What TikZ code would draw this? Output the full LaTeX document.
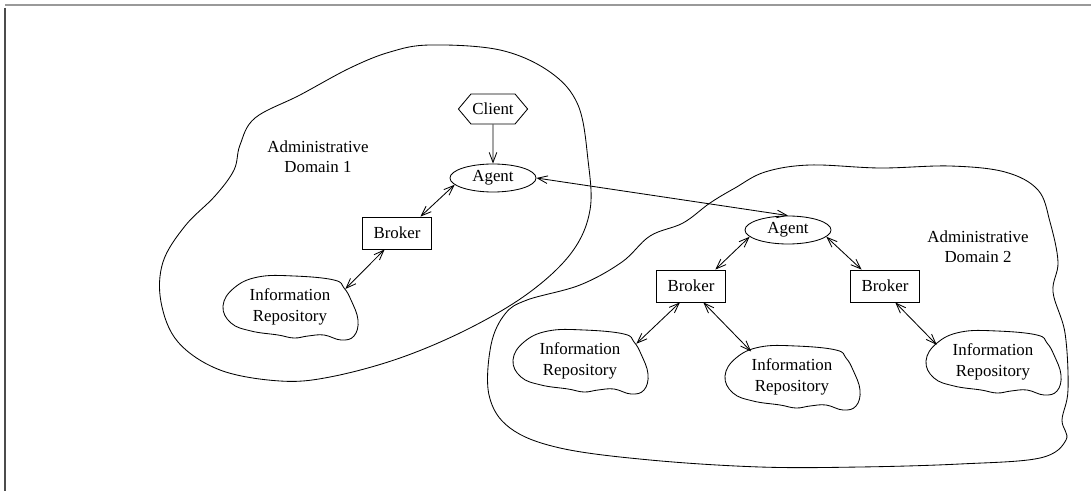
\documentclass[tikz,border=0pt]{standalone}
\usepackage{fontspec}
\setmainfont{Liberation Serif}
\usetikzlibrary{shapes,arrows.meta}

\begin{document}
\begin{tikzpicture}[x=0.025cm, y=-0.025cm, line width=0.6pt,
    >={Straight Barb[length=2.5mm,width=1.9mm]},
    every node/.style={font=\fontsize{12}{14.5}\selectfont, align=center},
    agent/.style={draw, ellipse, inner sep=0pt, minimum width=2.15cm, minimum height=0.7cm},
    broker/.style={draw, rectangle, inner sep=0pt, minimum width=1.72cm, minimum height=0.8cm},
    repo/.style={ellipse, inner sep=0pt, minimum width=3.3cm, minimum height=1.6cm}]
  \useasboundingbox (0,0) rectangle (1091,491);
  % frame
  \draw[gray!80, line width=0.8pt] (5,5) -- (1091,5);
  \draw[black!70, line width=0.8pt] (5,8) -- (5,491);

  % domain 1
  \draw plot[smooth cycle, tension=0.6] coordinates {(430,45) (500,50) (550,72) (578,105) (588,160) (590,210)
    (572,252) (530,292) (470,328) (400,358) (330,377) (280,381) (220,370) (178,342) (161,302) (163,262)
    (185,226) (215,196) (234,170) (240,145) (255,118) (300,95) (350,68) (390,52)};
  % domain 2
  \draw plot[smooth cycle, tension=0.6] coordinates {(527,300) (580,285) (622,262) (650,236) (683,223) (710,203)
    (735,188) (765,172) (810,165) (880,168) (950,166) (1005,172) (1038,190) (1050,222) (1058,262)
    (1053,292) (1065,333) (1068,390) (1062,420) (1066,440) (1040,458) (960,464) (860,467) (760,467)
    (650,460) (560,448) (510,428) (489,395) (491,345) (505,314)};

  \node (domA) at (318,157) {Administrative\\Domain 1};
  \node (domB) at (978,247) {Administrative\\Domain 2};

  \node[draw, signal, signal to=east and west, signal pointer angle=100, inner sep=1pt,
        minimum width=1.62cm, minimum height=0.75cm] (client) at (493,109) {Client};
  \node[agent] (agentA) at (493,178) {Agent};
  \node[broker] (brokerA) at (397,233) {Broker};
  \node[repo] (infoA) at (290,307) {Information\\Repository};

  \node[agent] (agentB) at (788,230) {Agent};
  \node[broker] (brokerB) at (691,286) {Broker};
  \node[broker] (brokerC) at (885,286) {Broker};
  \node[repo] (infoB) at (580,361) {Information\\Repository};
  \node[repo] (infoC) at (792,377) {Information\\Repository};
  \node[repo] (infoD) at (993,362) {Information\\Repository};

  % repository outlines
  \foreach \n in {infoA,infoB,infoC,infoD}
    \draw[shift={(\n.center)}] plot[smooth cycle, tension=0.7] coordinates {(-67,-1) (-56,-19) (-32,-30)
      (4,-31) (44,-27) (54,-19) (61,-7) (68,13) (64,29) (51,33) (34,28) (18,29) (4,31) (-12,28)
      (-39,24) (-59,16)};

  % connections
  \draw[->] (client) -- (agentA);
  \draw[<->] (agentA.-170) -- (brokerA.35);
  \draw[<->] (brokerA.-127) -- (infoA.18);
  \draw[<->] (agentA.east) -- (agentB.north);
  \draw[<->] (agentB.-170) -- (brokerB.34);
  \draw[<->] (agentB.-10) -- (brokerC.145);
  \draw[<->] (brokerB.-124) -- (infoB.17);
  \draw[<->] (brokerB.-53) -- (infoC.148);
  \draw[<->] (brokerC.-58) -- (infoD.163);
\end{tikzpicture}
\end{document}
